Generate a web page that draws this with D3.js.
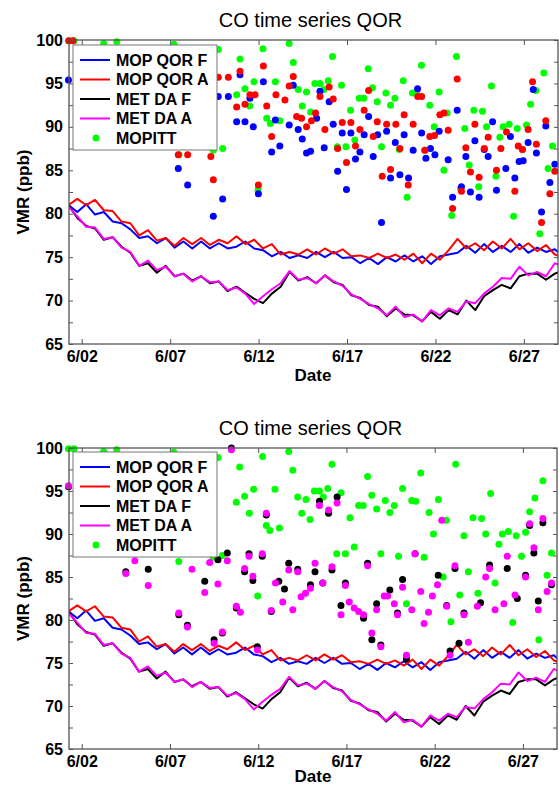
<!DOCTYPE html>
<html>
<head>
<meta charset="utf-8">
<script src="https://cdn.jsdelivr.net/npm/d3@7"></script>
<style>
  body { margin: 0; background: #fff; }
  svg { display: block; }
  text { font-family: "Liberation Sans", Arial, Helvetica, sans-serif; }
</style>
</head>
<body>
<script>
// model runs, half-daily samples starting 6/01 06:00
const lineStart = 1.25;
const lineStep = 0.5;

const mopQorF = [81.0, 80.2, 81.1, 79.9, 80.2, 79.1, 78.9, 78.2, 77.2, 77.4, 76.6, 77.2, 76.1, 76.8, 76.0, 76.8,
  76.0, 76.6, 76.0, 76.2, 76.8, 76.0, 75.8, 75.1, 75.6, 74.9, 75.2, 74.9, 75.6, 75.0, 75.6, 74.9, 75.0, 74.3,
  74.9, 74.2, 75.0, 74.5, 75.2, 74.5, 75.1, 74.2, 75.1, 75.3, 75.5, 76.3, 75.5, 76.5, 75.6, 76.3, 75.6, 76.5,
  75.5, 76.1, 75.6, 75.9, 75.0];
const mopQorA = [81.0, 81.7, 81.0, 81.6, 80.4, 80.3, 79.1, 78.9, 77.5, 78.1, 76.9, 77.2, 76.3, 77.2, 76.5, 77.2,
  76.4, 77.0, 76.6, 77.4, 76.5, 77.0, 76.0, 76.5, 75.3, 75.6, 75.3, 75.9, 75.3, 76.0, 75.4, 75.9, 75.1, 75.2,
  74.9, 75.4, 74.9, 75.3, 74.7, 75.4, 74.3, 75.4, 74.7, 75.8, 77.1, 76.0, 76.6, 75.8, 76.8, 76.0, 77.1, 75.9,
  76.6, 75.7, 76.4, 75.3, 75.0];
const metDaF = [81.0, 79.5, 78.6, 78.3, 77.0, 77.3, 76.2, 75.5, 74.0, 74.3, 73.2, 74.0, 72.8, 73.1, 72.3, 72.8,
  72.0, 72.2, 71.1, 71.6, 70.9, 70.2, 69.7, 70.8, 71.6, 73.3, 72.3, 72.7, 72.0, 72.9, 72.1, 71.8, 70.6, 70.3,
  69.5, 69.3, 68.2, 69.1, 68.4, 68.3, 67.6, 68.7, 67.9, 68.9, 68.4, 70.0, 68.9, 70.5, 71.2, 71.8, 71.4, 72.8,
  73.1, 73.1, 72.4, 73.1, 73.5];
const metDaA = [80.8, 79.7, 78.5, 78.4, 77.1, 77.3, 76.1, 75.6, 74.0, 74.6, 73.5, 73.9, 72.8, 73.1, 72.2, 72.8,
  72.1, 72.2, 71.2, 71.5, 70.8, 69.6, 70.5, 71.3, 72.0, 73.4, 72.4, 72.6, 72.0, 72.9, 72.2, 71.7, 70.7, 70.2,
  69.6, 69.1, 68.3, 69.3, 68.1, 68.4, 67.6, 68.9, 68.3, 69.1, 68.7, 69.9, 69.7, 70.8, 71.6, 72.6, 72.5, 73.9,
  72.9, 73.3, 72.8, 74.3, 73.9];

// observations: [day of June, VMR ppb]
const mopittObs = [[1.25,99.9],[1.56,99.9],[3.24,99.6],[3.98,99.8],[7.22,99.5],[7.5,86.8],[9.22,96.7],[9.44,87.3],
  [9.72,98.9],[9.97,87.5],[10.76,93.7],[10.95,97.8],[11.23,94.4],[11.5,92.4],[11.74,95.2],[11.97,82.8],[12.25,99.0],
  [12.46,91.0],[12.66,90.4],[12.95,95.2],[13.2,90.7],[13.73,99.6],[13.96,97.4],[14.24,94.3],[14.47,92.4],[14.71,94.0],
  [14.94,91.7],[15.18,95.0],[15.47,95.0],[15.69,94.3],[15.94,95.3],[16.18,98.1],[16.45,87.7],[16.69,94.8],[16.94,87.7],
  [17.2,91.9],[17.44,88.5],[17.69,93.3],[17.95,93.3],[18.2,96.7],[18.44,94.5],[18.71,92.9],[18.95,87.7],[19.2,93.9],
  [19.46,92.5],[19.71,93.3],[19.95,87.4],[20.18,95.3],[20.4,81.9],[20.7,93.9],[20.93,93.8],[21.21,97.1],[21.4,87.3],
  [21.68,92.5],[21.93,90.0],[22.21,94.0],[22.48,85.0],[22.66,91.6],[22.92,79.8],[23.19,98.1],[23.42,82.9],[23.66,89.8],
  [23.91,85.6],[24.17,91.9],[24.45,83.1],[24.66,91.8],[24.89,90.0],[25.17,94.7],[25.42,84.3],[25.64,88.8],[25.83,90.0],
  [26.17,90.3],[26.42,79.7],[26.62,89.8],[26.92,87.4],[27.15,90.2],[27.38,92.6],[27.68,94.2],[27.9,77.7],[28.13,96.2],
  [28.37,85.2],[28.62,87.8]];
const qorFObs = [[1.25,95.4],[7.46,85.2],[7.99,83.3],[9.44,79.7],[9.72,93.5],[9.97,81.7],[10.29,93.5],[10.76,90.6],
  [10.95,96.0],[11.23,90.6],[11.51,93.3],[11.7,90.0],[11.99,82.3],[12.27,95.2],[12.74,87.1],[12.95,90.8],[13.2,87.8],
  [13.73,90.2],[13.96,94.8],[14.24,89.7],[14.47,88.6],[14.71,87.0],[14.94,87.2],[15.28,91.0],[15.47,94.1],[15.71,87.6],
  [15.99,92.9],[16.22,90.3],[16.47,84.9],[16.73,89.3],[16.97,82.8],[17.22,89.3],[17.48,86.3],[17.73,87.1],[17.97,89.1],
  [18.22,91.2],[18.48,86.6],[18.73,89.1],[18.95,79.0],[19.24,89.5],[19.46,84.1],[19.73,88.2],[19.99,84.5],[20.23,89.1],
  [20.48,84.1],[20.74,87.3],[20.99,94.4],[21.22,89.3],[21.46,86.4],[21.72,87.5],[21.97,86.8],[22.21,89.5],[22.72,86.2],
  [22.97,81.9],[23.23,91.9],[23.47,83.1],[23.72,86.6],[23.98,82.5],[24.23,88.4],[24.47,81.9],[24.76,87.4],[24.98,86.6],
  [25.23,90.6],[25.45,82.7],[25.98,85.2],[26.24,88.9],[26.49,84.1],[26.73,86.0],[26.96,86.1],[27.24,88.2],[27.53,94.3],
  [27.71,87.0],[28.0,80.2],[28.24,90.1],[28.47,83.6],[28.75,85.7]];
const qorAObs = [[1.28,99.9],[1.5,99.9],[7.46,86.8],[7.99,86.8],[9.3,86.6],[9.44,83.9],[9.72,95.7],[10.29,95.7],
  [10.76,92.3],[10.95,96.4],[11.23,92.6],[11.51,93.7],[11.8,93.7],[11.99,83.3],[12.27,97.0],[12.46,92.4],[12.74,88.9],
  [12.98,93.7],[13.49,93.1],[13.73,94.7],[13.96,95.8],[14.15,91.2],[14.43,91.0],[14.71,90.0],[14.99,90.7],[15.22,91.6],
  [15.47,93.5],[15.75,89.7],[15.99,94.6],[16.22,93.2],[16.47,87.5],[16.73,90.5],[16.97,85.9],[17.22,90.5],[17.48,87.8],
  [17.73,89.7],[17.97,91.9],[18.22,94.2],[18.48,88.9],[18.71,90.6],[18.99,84.3],[19.24,90.3],[19.46,85.1],[19.76,90.3],
  [19.99,87.5],[20.23,91.4],[20.46,83.3],[20.74,90.3],[21.0,93.5],[21.22,93.5],[21.4,87.3],[21.68,88.9],[21.95,89.0],
  [22.25,91.4],[22.48,91.6],[22.72,89.6],[22.97,80.6],[23.23,95.5],[23.47,82.6],[23.72,87.6],[23.98,84.8],[24.23,90.3],
  [24.47,84.2],[24.76,87.5],[24.98,88.8],[25.45,85.0],[25.7,87.5],[26.02,89.4],[26.49,82.6],[26.68,87.8],[26.92,87.4],
  [27.24,89.7],[27.49,95.2],[27.71,88.0],[28.0,79.0],[28.24,90.7],[28.47,82.3],[28.75,84.9]];
const metFObs = [[1.25,95.5],[4.5,85.6],[5.77,85.9],[7.5,80.6],[7.99,79.4],[8.97,84.5],[9.5,77.7],[9.72,87.0],
  [9.97,78.5],[10.25,87.8],[10.48,100.0],[10.76,81.4],[11.23,85.6],[11.48,87.7],[11.7,84.6],[11.95,76.9],[12.23,87.4],
  [12.46,92.2],[12.74,81.0],[13.17,84.5],[13.49,83.6],[13.73,86.6],[14.24,85.9],[14.96,84.1],[15.22,85.6],[15.47,93.8],
  [15.66,84.3],[15.99,92.4],[16.18,85.8],[16.47,94.3],[16.69,81.7],[16.94,84.3],[17.97,80.2],[18.2,86.6],[18.44,77.7],
  [18.71,81.9],[18.95,77.1],[19.46,83.5],[19.89,80.8],[20.18,84.7],[20.4,75.5],[20.89,87.7],[22.2,85.2],[22.68,81.7],
  [22.87,76.4],[23.15,86.0],[23.38,77.3],[23.66,80.8],[24.6,82.0],[25.11,86.4],[26.11,86.0],[26.68,82.5],[27.15,85.2],
  [27.38,91.0],[27.62,87.8],[27.87,82.2],[28.13,91.3],[28.62,84.1]];
const metAObs = [[1.25,95.6],[4.5,85.4],[5.01,86.9],[5.77,84.0],[7.5,80.8],[7.99,79.2],[8.25,85.9],[8.97,83.2],
  [9.25,86.7],[9.5,77.3],[9.72,84.2],[9.97,78.6],[10.25,86.9],[10.48,99.8],[10.76,81.6],[10.99,80.9],[11.23,86.0],
  [11.48,87.4],[11.7,85.1],[11.95,76.5],[12.23,87.7],[12.46,92.4],[12.74,81.1],[12.98,84.3],[13.39,82.1],[13.73,85.8],
  [13.96,81.2],[14.24,85.6],[14.43,82.7],[14.68,83.1],[14.96,83.7],[15.22,86.6],[15.47,93.3],[15.66,84.3],[15.99,92.8],
  [16.18,86.2],[16.47,93.6],[16.69,80.6],[16.94,84.0],[17.16,82.1],[17.44,81.4],[17.69,81.0],[17.97,80.6],[18.2,86.3],
  [18.44,78.5],[18.71,81.2],[18.95,76.9],[19.14,82.8],[19.33,82.8],[19.71,81.9],[19.89,80.6],[20.18,83.8],[20.4,75.9],
  [20.7,81.2],[20.89,87.7],[21.21,83.3],[21.4,79.6],[21.65,80.9],[21.87,82.8],[22.16,84.1],[22.4,91.6],[22.68,81.6],
  [22.87,75.9],[23.15,86.3],[23.66,80.6],[23.91,77.4],[24.42,81.6],[24.89,85.0],[25.11,86.0],[25.42,81.2],[25.92,81.9],
  [26.11,87.4],[26.55,82.9],[27.15,85.0],[27.38,91.2],[27.62,88.4],[27.87,81.2],[28.13,91.8],[28.37,83.3],[28.62,84.3]];

const dayTicks = [2, 7, 12, 17, 22, 27];
const vmrTicks = [65, 67.5, 70, 72.5, 75, 77.5, 80, 82.5, 85, 87.5, 90, 92.5, 95, 97.5, 100];
const legendNames = ["MOP QOR F", "MOP QOR A", "MET DA F", "MET DA A", "MOPITT"];

const BLUE = "#0000ff", RED = "#ff0000", BLACK = "#000000", MAGENTA = "#ff00ff", GREEN = "#00ff00";

const svg = d3.select("body").append("svg")
  .attr("width", 559)
  .attr("height", 788);

function drawPanel(p, dotSets, id) {
  const x = d3.scaleLinear().domain([1.28, 28.93]).range([p.left, p.right]);
  const y = d3.scaleLinear().domain([65, 100]).range([p.bottom, p.top]);
  const g = svg.append("g");

  g.append("text")
    .attr("x", 310.5).attr("y", p.top - 13)
    .attr("text-anchor", "middle")
    .attr("font-size", "20px")
    .text("CO time series QOR");

  g.append("clipPath").attr("id", id)
    .append("rect")
    .attr("x", p.left).attr("y", p.top)
    .attr("width", p.right - p.left).attr("height", p.bottom - p.top);

  // model lines
  const line = d3.line()
    .x((d, i) => x(lineStart + i * lineStep))
    .y(d => y(d));
  const lines = [[mopQorF, BLUE], [mopQorA, RED], [metDaF, BLACK], [metDaA, MAGENTA]];
  lines.forEach(([vals, col]) => {
    g.append("path").datum(vals)
      .attr("clip-path", "url(#" + id + ")")
      .attr("d", line)
      .attr("fill", "none")
      .attr("stroke", col)
      .attr("stroke-width", 2)
      .attr("stroke-linejoin", "round");
  });

  // observation dots (MATLAB does not clip markers)
  dotSets.forEach(([pts, col]) => {
    g.append("g").selectAll("circle")
      .data(pts)
      .join("circle")
      .attr("cx", d => x(d[0]))
      .attr("cy", d => y(d[1]))
      .attr("r", 3.5)
      .attr("fill", col);
  });

  // axes, ticks pointing inward
  const tickCol = "#555";
  const bottomAx = g.append("g").attr("transform", "translate(0," + p.bottom + ")")
    .call(d3.axisBottom(x).tickValues(dayTicks).tickSize(-5).tickPadding(7)
      .tickFormat(d => "6/" + String(d).padStart(2, "0")));
  const topAx = g.append("g").attr("transform", "translate(0," + p.top + ")")
    .call(d3.axisTop(x).tickValues(dayTicks).tickSize(-5).tickFormat(""));
  const leftAx = g.append("g").attr("transform", "translate(" + p.left + ",0)")
    .call(d3.axisLeft(y).tickValues(vmrTicks).tickSize(-4).tickPadding(6)
      .tickFormat(d => d % 5 === 0 ? d : ""));
  const rightAx = g.append("g").attr("transform", "translate(" + p.right + ",0)")
    .call(d3.axisRight(y).tickValues(vmrTicks).tickSize(-4).tickFormat(""));
  [bottomAx, topAx, leftAx, rightAx].forEach(ax => {
    ax.select(".domain").remove();
    ax.selectAll("line").attr("stroke", tickCol);
    ax.selectAll("text")
      .attr("font-family", "Liberation Sans, Arial, sans-serif")
      .attr("font-size", "16px")
      .attr("font-weight", "bold")
      .attr("fill", "#000");
  });

  g.append("rect")
    .attr("x", p.left).attr("y", p.top)
    .attr("width", p.right - p.left).attr("height", p.bottom - p.top)
    .attr("fill", "none")
    .attr("stroke", tickCol)
    .attr("stroke-width", 1.3);

  g.append("text")
    .attr("x", 313).attr("y", Math.min(p.bottom + 37, 782))
    .attr("text-anchor", "middle")
    .attr("font-size", "17px").attr("font-weight", "bold")
    .text("Date");

  g.append("text")
    .attr("transform", "translate(29," + (p.top + p.bottom) / 2 + ") rotate(-90)")
    .attr("text-anchor", "middle")
    .attr("font-size", "17px").attr("font-weight", "bold")
    .text("VMR (ppb)");

  // legend
  const lg = g.append("g").attr("transform", "translate(" + 73 + "," + p.legendTop + ")");
  lg.append("rect")
    .attr("width", 144).attr("height", 105)
    .attr("fill", "#fff")
    .attr("stroke", "#777").attr("stroke-width", 1);
  const legCols = [BLUE, RED, BLACK, MAGENTA, GREEN];
  legendNames.forEach((name, i) => {
    const ry = 15 + i * 19.5;
    if (i < 4) {
      lg.append("line")
        .attr("x1", 7).attr("x2", 37).attr("y1", ry).attr("y2", ry)
        .attr("stroke", legCols[i]).attr("stroke-width", 2);
    } else {
      lg.append("circle").attr("cx", 23).attr("cy", ry).attr("r", 3.5).attr("fill", legCols[i]);
    }
    lg.append("text")
      .attr("x", 43).attr("y", ry).attr("dy", "0.36em")
      .attr("font-size", "16px").attr("font-weight", "bold")
      .text(name);
  });
}

drawPanel({ left: 69, right: 558, top: 40, bottom: 344, legendTop: 45 },
  [[mopittObs, GREEN], [qorFObs, BLUE], [qorAObs, RED]], "clipTop");
drawPanel({ left: 69, right: 557, top: 448, bottom: 749, legendTop: 452 },
  [[mopittObs, GREEN], [metFObs, BLACK], [metAObs, MAGENTA]], "clipBottom");
</script>
</body>
</html>
